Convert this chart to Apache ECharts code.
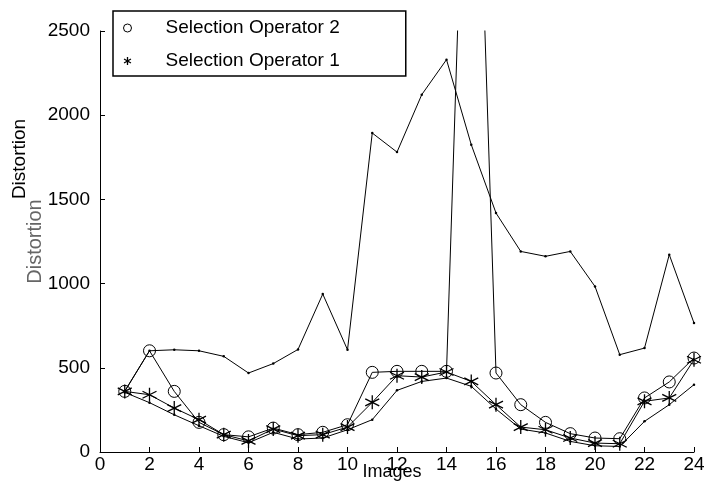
<!DOCTYPE html>
<html>
<head>
<meta charset="utf-8">
<script src="https://cdn.jsdelivr.net/npm/echarts@6/dist/echarts.min.js"></script>
<style>
html,body{margin:0;padding:0;background:#fff;}
#c{width:704px;height:491px;}
</style>
</head>
<body>
<div id="c"></div>
<script>
var images = [1,2,3,4,5,6,7,8,9,10,11,12,13,14,15,16,17,18,19,20,21,22,23,24];
var upperLine = [362,601,607,601,568,469,525,609,938,607,1894,1781,2122,2330,1825,1419,1191,1162,1191,983,578,617,1172,766];
var selOp2 = [360,601,360,176,103,90,142,103,117,162,473,479,479,479,5000,469,281,176,109,83,79,321,416,558];
var selOp1 = [360,340,261,192,103,66,136,97,103,148,295,453,445,475,419,281,148,132,83,53,49,301,321,548];
var lowerLine = [354,293,221,156,93,55,117,77,83,132,192,366,419,439,390,255,136,113,63,37,33,182,281,400];
var xTicks = {min:0, max:24, step:2};
var yTicks = {min:0, max:2500, step:500};

function pairs(arr){ return images.map(function(x,i){ return [x, arr[i]]; }); }

var FONT = 'Liberation Sans, Arial, Helvetica, sans-serif';
var starPath = 'path://M0,-1L0,1M-0.866,-0.5L0.866,0.5M-0.866,0.5L0.866,-0.5';

var chart = echarts.init(document.getElementById('c'), null, {renderer:'canvas'});
chart.setOption({
  animation: false,
  backgroundColor: '#fff',
  textStyle: {fontFamily: FONT},
  grid: {left: 100, right: 10, top: 31, bottom: 39, containLabel: false, outerBoundsMode: 'none'},
  xAxis: {
    type: 'value', min: xTicks.min, max: xTicks.max, interval: xTicks.step,
    name: 'Images', nameLocation: 'middle', nameGap: 11, nameMoveOverlap: false,
    nameTextStyle: {color:'#000', fontSize: 18, fontFamily: FONT, padding:[0,10,0,0]},
    axisLine: {lineStyle: {color:'#000', width:1}},
    axisTick: {inside: true, length: 5, lineStyle:{color:'#000'}},
    axisLabel: {color:'#000', fontSize: 19, fontFamily: FONT, margin: 3, formatter: function(v){ return String(v); }},
    splitLine: {show:false}
  },
  yAxis: {
    type: 'value', min: yTicks.min, max: yTicks.max, interval: yTicks.step,
    name: 'Distortion', nameLocation: 'middle', nameGap: 55, nameRotate: 90, nameMoveOverlap: false,
    nameTextStyle: {color:'#666', fontSize: 20, fontFamily: FONT},
    axisLine: {show:true, lineStyle: {color:'#000', width:1}},
    axisTick: {inside: true, length: 5, lineStyle:{color:'#000'}},
    axisLabel: {color:'#000', fontSize: 19, fontFamily: FONT, margin: 10, formatter: function(v){ return String(v); }},
    splitLine: {show:false}
  },
  legend: {
    left: 113, top: 11, orient: 'vertical',
    borderColor: '#000', borderWidth: 1.5, borderRadius: 0,
    padding: [7, 66, 5, 10],
    itemGap: 13, itemWidth: 8, itemHeight: 8,
    textStyle: {color:'#000', fontSize: 19, fontFamily: FONT, padding:[0,0,0,29], lineHeight: 20},
    data: [
      {name:'Selection Operator 2', icon:'circle', itemStyle:{color:'transparent', borderColor:'#000', borderWidth:1}},
      {name:'Selection Operator 1', icon: starPath, itemStyle:{color:'transparent', borderColor:'#000', borderWidth:1.3}}
    ]
  },
  graphic: [{
    type: 'text', x: 20, y: 159, rotation: Math.PI/2,
    style: {text: 'Distortion', fill:'#000', font: '19px ' + FONT, textAlign:'center', textVerticalAlign:'middle'}
  }],
  series: [
    {
      name: 'upper', type: 'line', data: pairs(upperLine),
      symbol: 'circle', symbolSize: 2.5, itemStyle:{color:'#000'},
      lineStyle: {color:'#000', width: 1}, z: 2
    },
    {
      name: 'lower', type: 'line', data: pairs(lowerLine),
      symbol: 'circle', symbolSize: 2.5, itemStyle:{color:'#000'},
      lineStyle: {color:'#000', width: 1}, z: 2
    },
    {
      name: 'Selection Operator 2', type: 'line', data: pairs(selOp2),
      symbol: 'circle', symbolSize: 12,
      itemStyle: {color:'transparent', borderColor:'#000', borderWidth:1},
      lineStyle: {color:'#000', width: 1}, z: 3
    },
    {
      name: 'Selection Operator 1', type: 'line', data: pairs(selOp1),
      symbol: starPath, symbolSize: 14,
      itemStyle: {color:'transparent', borderColor:'#000', borderWidth:1.3},
      lineStyle: {color:'#000', width: 1}, z: 4
    }
  ]
});
</script>
</body>
</html>
